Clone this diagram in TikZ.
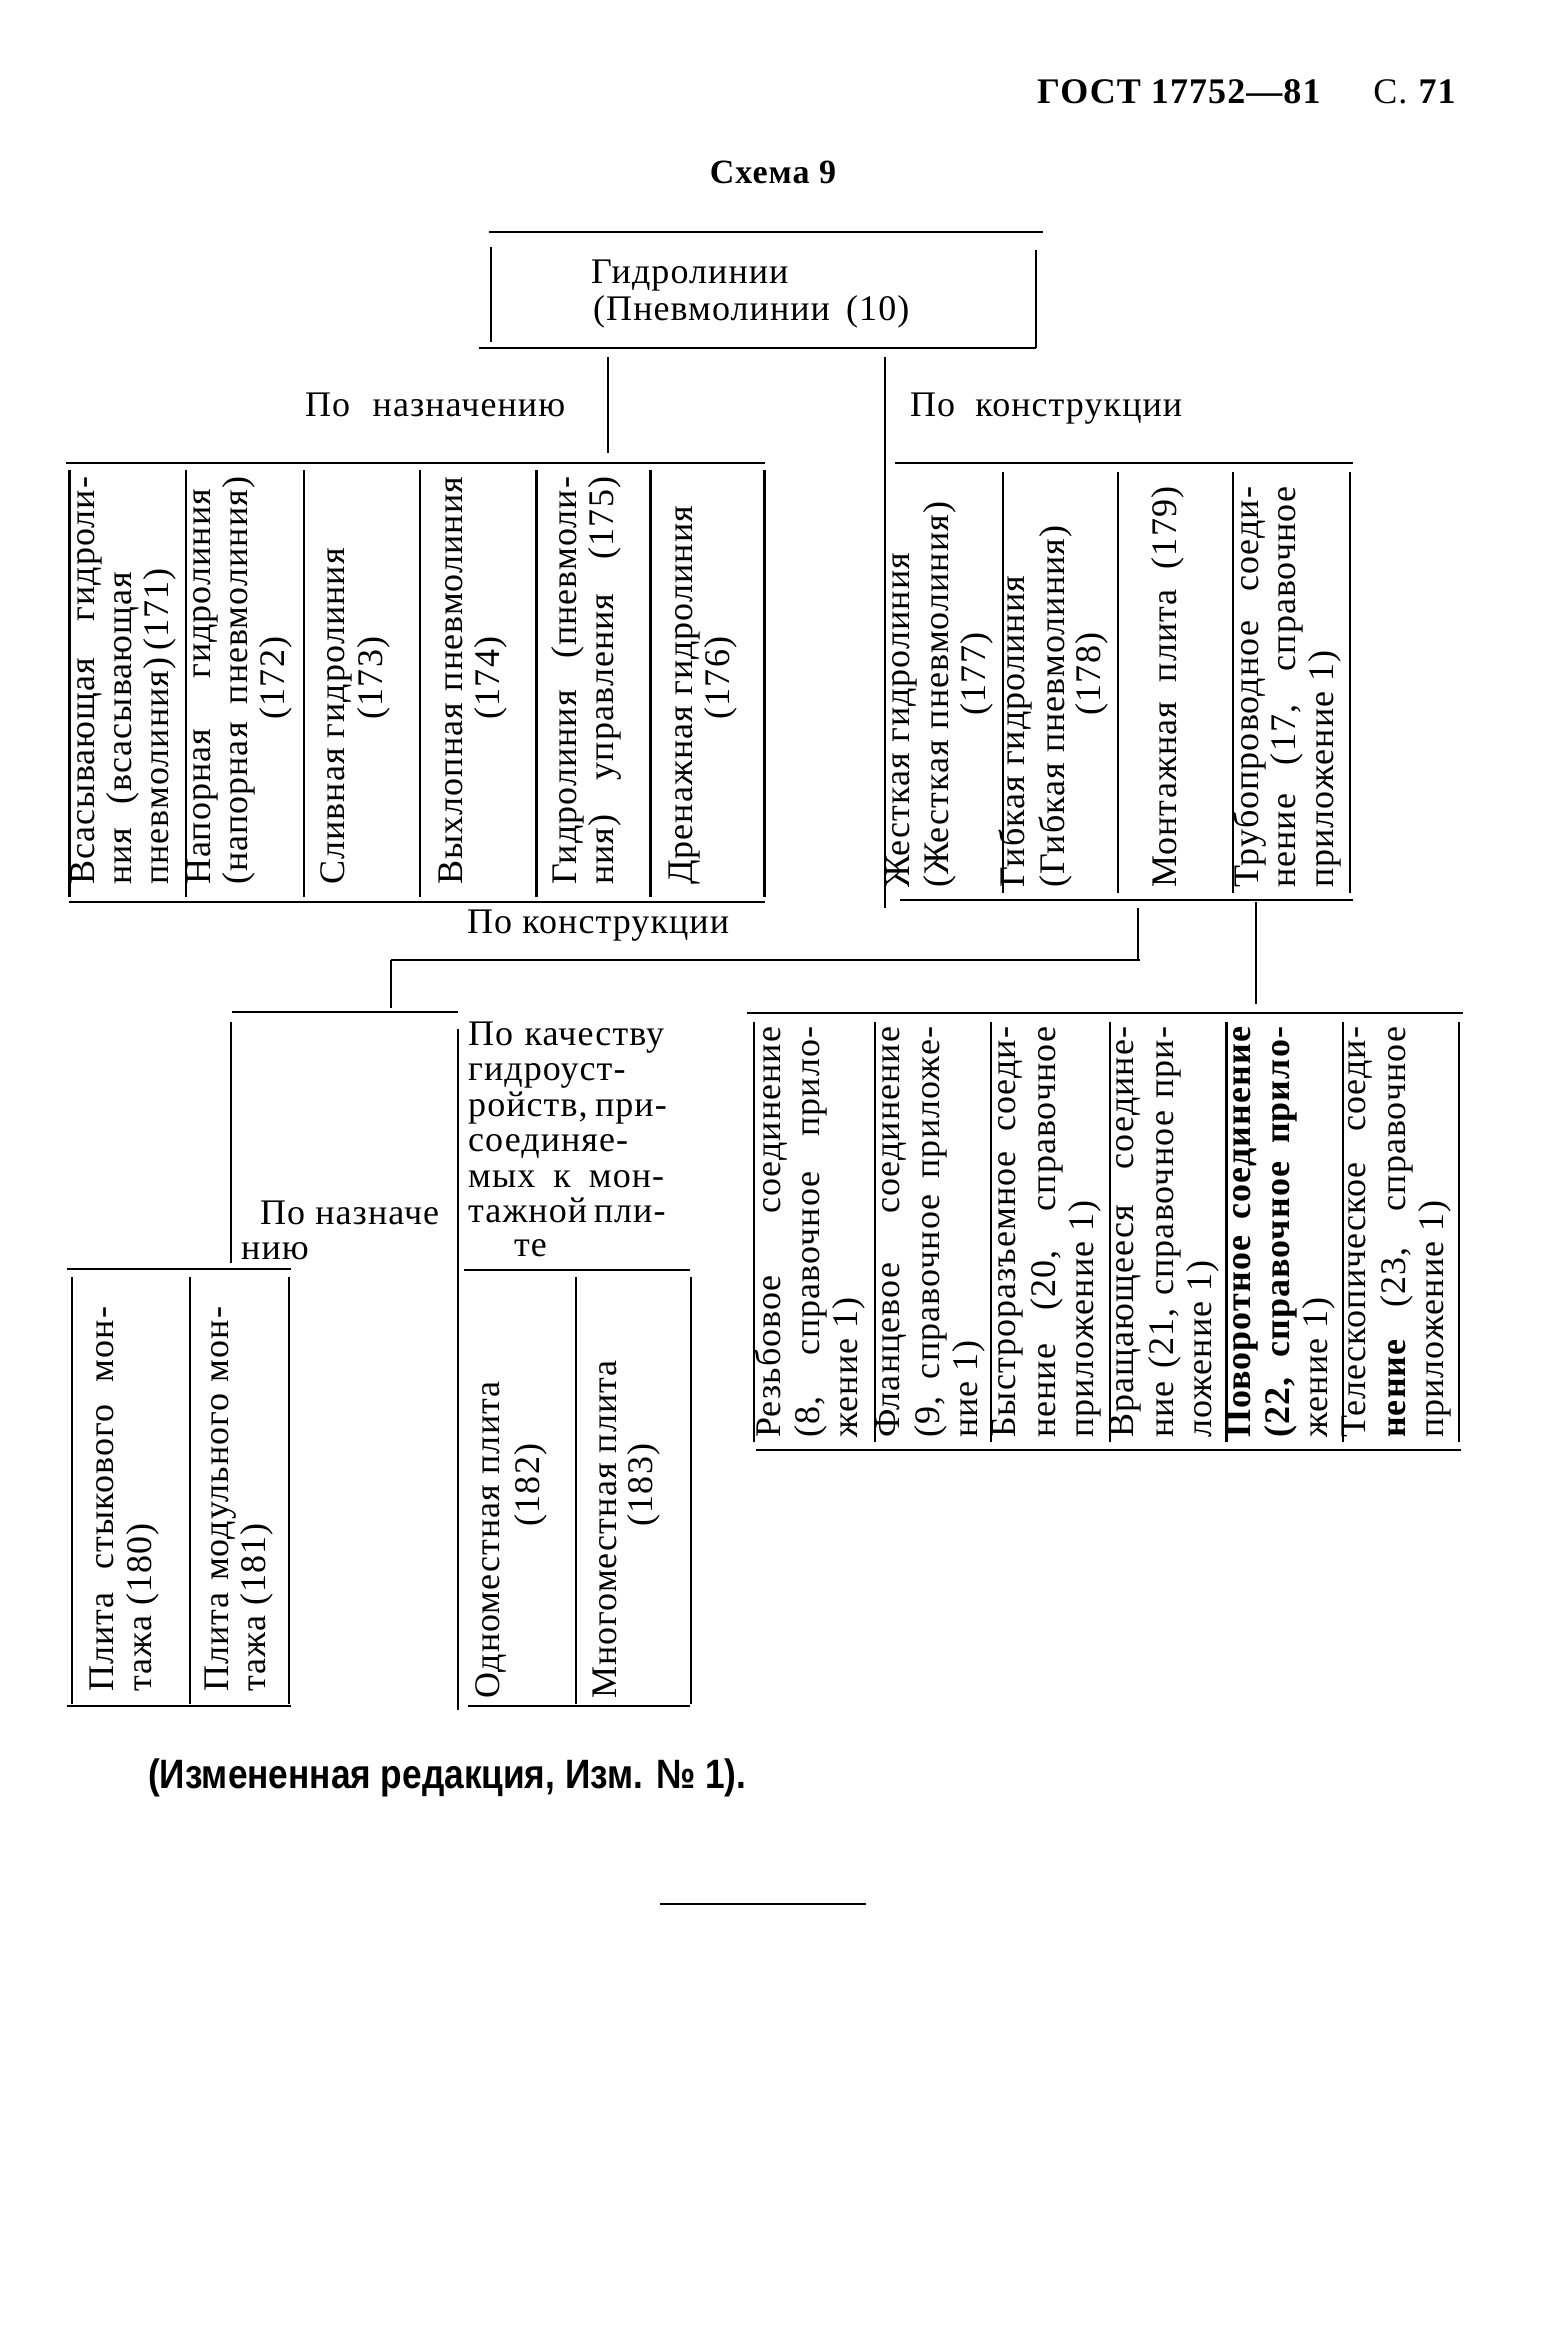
\documentclass[tikz,border=0pt]{standalone}
\usepackage{graphicx}
\usepackage{fontspec}
\setmainfont{Liberation Serif}[LetterSpace=3]
\newfontfamily\capfont{Liberation Sans}
\newcommand\rotJ[5]{\node[rt] (#1) at (#2,#3) {\makebox[#4pt][s]{#5}};}
\newcommand\rotL[4]{\node[rt] (#1) at (#2,#3) {#4};}
\newcommand\rotC[4]{\node[rc] (#1) at (#2,#3) {#4};}
\newcommand\horJ[5]{\node[ht] (#1) at (#2,#3) {\makebox[#4pt][s]{#5}};}
\newcommand\horL[4]{\node[ht] (#1) at (#2,#3) {#4};}
\tikzset{
  rule/.style={line width=2.8pt, line cap=butt},
  txt/.style={inner sep=0pt, font=\fontsize{36}{38}\selectfont},
  rt/.style={txt, rotate=90, anchor=mid west},
  rc/.style={txt, rotate=90, anchor=mid},
  ht/.style={txt, anchor=base west},
}
\begin{document}
\begin{tikzpicture}[x=1pt,y=-1pt]
\useasboundingbox[fill=white] (0,0) rectangle (1549,2331);

% header
\node[inner sep=0pt, anchor=base west, font=\fontsize{36}{38}\selectfont\bfseries] (hdr) at (1037,103) {ГОСТ 17752—81};
\node[inner sep=0pt, anchor=base east, font=\fontsize{36}{38}\selectfont] (pg) at (1457,103) {С. \textbf{71}};
\node[inner sep=0pt, anchor=base, font=\fontsize{34}{36}\selectfont\bfseries] (title) at (773,183) {Схема 9};

% top box
\draw[rule] (489,232) -- (1043,232);
\draw[rule] (491,247) -- (491,342);
\draw[rule] (1036,250) -- (1036,348);
\draw[rule] (479,348) -- (1036,348);
\horL{top1}{591}{283}{Гидролинии}
\horL{top2}{593}{320}{(Пневмолинии\hspace{0.45em}(10)}

% branches
\draw[rule] (608,357) -- (608,453);
\draw[rule] (885,357) -- (885,908);
\horL{lblA}{305}{416}{\makebox[260pt][s]{По назначению}}
\horL{lblB}{910}{416}{\makebox[272pt][s]{По конструкции}}

% left table
\draw[rule] (66,463) -- (765,463);
\draw[rule] (69,902) -- (765,902);
\foreach \xx in {69.5,186,304,420,536.5,650.5,764.6}
  \draw[rule] (\xx,470) -- (\xx,897);
\rotJ{a1}{92}{885}{408}{Всасывающая гидроли-}
\rotJ{a2}{129}{885}{313}{ния (всасывающая}
\rotJ{a3}{166}{885}{313}{пневмолиния) (171)}
\rotJ{b1}{208}{885}{396}{Напорная гидролиния}
\rotJ{b2}{245}{885}{408}{(напорная пневмолиния)}
\rotC{b3}{282}{678}{(172)}
\rotL{c1}{342}{885}{Сливная гидролиния}
\rotC{c2}{380}{678}{(173)}
\rotJ{d1}{460}{885}{408}{Выхлопная пневмолиния}
\rotC{d2}{497}{678}{(174)}
\rotJ{e1}{574}{885}{408}{Гидролиния (пневмоли-}
\rotJ{e2}{611}{885}{408}{ния) управления (175)}
\rotL{f1}{690}{885}{Дренажная гидролиния}
\rotC{f2}{727}{678}{(176)}

% right table
\draw[rule] (895,463) -- (1353,463);
\draw[rule] (900,900) -- (1353,900);
\foreach \xx in {1003,1118,1233,1350}
  \draw[rule] (\xx,472) -- (\xx,893);
\rotL{g1}{907}{888}{Жесткая гидролиния}
\rotJ{g2}{946}{888}{386}{(Жесткая пневмолиния)}
\rotC{g3}{983}{674}{(177)}
\rotL{h1}{1022}{888}{Гибкая гидролиния}
\rotL{h2}{1062}{888}{(Гибкая пневмолиния)}
\rotC{h3}{1098}{674}{(178)}
\rotJ{i1}{1174}{888}{401}{Монтажная плита (179)}
\rotJ{j1}{1256}{888}{401}{Трубопроводное соеди-}
\rotJ{j2}{1293}{888}{401}{нение (17, справочное}
\rotL{j3}{1331}{888}{приложение 1)}

% connectors to lower level
\draw[rule] (1138,908) -- (1138,961);
\draw[rule] (391,960) -- (1140,960);
\draw[rule] (391,960) -- (391,1008);
\horL{lblC}{467}{933}{По конструкции}
\draw[rule] (1256,902) -- (1256,1004);

% plate group
\draw[rule] (232,1012) -- (458,1012);
\draw[rule] (231,1022) -- (231,1263);
\draw[rule] (458,1029) -- (458,1710);
\horL{pn1}{260}{1224}{По назначе}
\horL{pn2}{241}{1259}{нию}
\horJ{pk1}{468}{1045}{196}{По качеству}
\horL{pk2}{468}{1080}{гидроуст-}
\horJ{pk3}{468}{1116}{196}{ройств, при-}
\horL{pk4}{468}{1151}{соединяе-}
\horJ{pk5}{468}{1187}{196}{мых к мон-}
\horJ{pk6}{468}{1222}{196}{тажной пли-}
\horL{pk7}{514}{1256}{те}

% sub-table A
\draw[rule] (67,1269) -- (291,1269);
\draw[rule] (67,1706) -- (291,1706);
\foreach \xx in {72,190,289}
  \draw[rule] (\xx,1277) -- (\xx,1704);
\rotJ{q1}{111}{1692}{385}{Плита стыкового мон-}
\rotL{q2}{149}{1692}{тажа (180)}
\rotJ{r1}{226}{1692}{385}{Плита модульного мон-}
\rotL{r2}{263}{1692}{тажа (181)}

% sub-table B
\draw[rule] (464,1270) -- (690,1270);
\draw[rule] (468,1706) -- (690,1706);
\foreach \xx in {576,691}
  \draw[rule] (\xx,1277) -- (\xx,1704);
\rotL{s1}{497}{1699}{Одноместная плита}
\rotC{s2}{537}{1485}{(182)}
\rotL{t1}{614}{1699}{Многоместная плита}
\rotC{t2}{650}{1485}{(183)}

% connections table
\draw[rule] (747,1013) -- (1463,1013);
\draw[rule] (756,1450) -- (1461,1450);
\foreach \xx in {754,875,991,1110,1226.5,1343,1459}
  \draw[rule] (\xx,1022) -- (\xx,1442);
\rotJ{k1}{778}{1438}{411}{Резьбовое соединение}
\rotJ{k2}{817}{1438}{411}{(8, справочное прило-}
\rotL{k3}{855}{1438}{жение 1)}
\rotJ{l1}{897}{1438}{411}{Фланцевое соединение}
\rotJ{l2}{937}{1438}{411}{(9, справочное приложе-}
\rotL{l3}{975}{1438}{ние 1)}
\rotJ{m1}{1013}{1438}{411}{Быстроразъемное соеди-}
\rotJ{m2}{1053}{1438}{411}{нение (20, справочное}
\rotL{m3}{1091}{1438}{приложение 1)}
\rotJ{n1}{1131}{1438}{411}{Вращающееся соедине-}
\rotJ{n2}{1171}{1438}{411}{ние (21, справочное при-}
\rotL{n3}{1209}{1438}{ложение 1)}
\rotJ{o1}{1248}{1438}{411}{\bfseries Поворотное соединение}
\rotJ{o2}{1287}{1438}{411}{\bfseries (22, справочное прило-}
\rotL{o3}{1325}{1438}{жение 1)}
\rotJ{p1}{1363}{1438}{411}{Телескопическое соеди-}
\rotJ{p2}{1403}{1438}{411}{\textbf{нение} (23, справочное}
\rotL{p3}{1441}{1438}{приложение 1)}

% footer
\node[inner sep=0pt, anchor=base west] (foot) at (148,1788)
  {\resizebox{598pt}{\height}{\capfont\bfseries\fontsize{41}{41}\selectfont (Измененная редакция, Изм. № 1).}};
\draw[rule] (660,1904) -- (866,1904);
\end{tikzpicture}
\end{document}
